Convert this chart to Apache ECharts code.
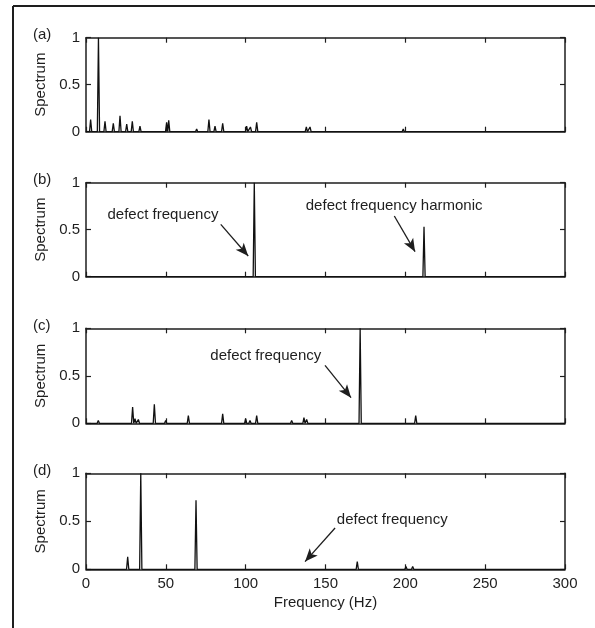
<!DOCTYPE html>
<html><head><meta charset="utf-8">
<script src="https://cdn.jsdelivr.net/npm/echarts@6/dist/echarts.min.js"></script>
<style>html,body{margin:0;padding:0;background:#fff}#c{width:595px;height:628px}</style>
</head><body><div id="c"></div>
<script>
// ---- data ----
const panelLabels = ['(a)', '(b)', '(c)', '(d)'];
const xAxisTitle = 'Frequency (Hz)';
const yAxisTitle = 'Spectrum';

const peakFreqA = [2.9, 7.8, 11.9, 17.1, 21.3, 25.5, 29.0, 33.8, 50.5, 51.8, 55.3, 69.3, 77.0, 80.8, 85.6, 100.6, 103.0, 106.9, 138.0, 140.3, 198.7, 213.4];
const peakAmpA  = [0.13, 1.0, 0.11, 0.09, 0.17, 0.08, 0.11, 0.06, 0.10, 0.12, 0.02, 0.03, 0.13, 0.06, 0.09, 0.06, 0.05, 0.10, 0.05, 0.05, 0.03, 0.01];

const peakFreqB = [105.4, 211.7];
const peakAmpB  = [1.0, 0.53];

const peakFreqC = [4.6, 7.7, 29.2, 30.7, 32.8, 37.0, 42.8, 49.9, 64.1, 72.0, 77.7, 85.6, 94.8, 100.0, 102.7, 106.9, 128.8, 136.5, 138.2, 141.4, 171.7, 206.5];
const peakAmpC  = [0.02, 0.03, 0.17, 0.05, 0.04, 0.02, 0.20, 0.03, 0.08, 0.02, 0.01, 0.10, 0.01, 0.05, 0.03, 0.08, 0.03, 0.06, 0.04, 0.02, 1.0, 0.08];

const peakFreqD = [26.1, 34.3, 68.9, 135.1, 169.9, 200.4, 204.6];
const peakAmpD  = [0.13, 1.0, 0.72, 0.01, 0.08, 0.03, 0.03];

// annotations (data units): text, text anchor, arrow start, arrow tip
const annoTextB  = ['defect frequency', 'defect frequency harmonic'];
const annoAtB    = [[48.2, 0.656], [193.0, 0.755]];
const arrowFromB = [[84.4, 0.557], [193.1, 0.646]];
const arrowToB   = [[101.6, 0.22], [206.1, 0.266]];

const annoTextC  = ['defect frequency'];
const annoAtC    = [[112.6, 0.71]];
const arrowFromC = [[149.7, 0.61]];
const arrowToC   = [[166.0, 0.27]];

const annoTextD  = ['defect frequency'];
const annoAtD    = [[191.8, 0.52]];
const arrowFromD = [[156.0, 0.43]];
const arrowToD   = [[137.2, 0.08]];

// ---- layout ----
const FONT = '"Liberation Sans", Arial, Helvetica, sans-serif';
const INK = '#1e1e1e';
const gridTops = [37.7, 182.7, 328.3, 473.3];
const gridHeights = [94, 94, 95, 96];
const HALF_W = 0.7;

function spikeLine(freqs, amps) {
  const idx = freqs.map((f, i) => i).sort((a, b) => freqs[a] - freqs[b]);
  const pts = [[0, 0]];
  idx.forEach(i => {
    pts.push([freqs[i] - HALF_W, 0]);
    pts.push([freqs[i], amps[i]]);
    pts.push([freqs[i] + HALF_W, 0]);
  });
  pts.push([300, 0]);
  return pts;
}

const panels = [
  { f: peakFreqA, a: peakAmpA, texts: [], at: [], from: [], to: [] },
  { f: peakFreqB, a: peakAmpB, texts: annoTextB, at: annoAtB, from: arrowFromB, to: arrowToB },
  { f: peakFreqC, a: peakAmpC, texts: annoTextC, at: annoAtC, from: arrowFromC, to: arrowToC },
  { f: peakFreqD, a: peakAmpD, texts: annoTextD, at: annoAtD, from: arrowFromD, to: arrowToD }
];

const grids = [], xAxes = [], yAxes = [], series = [];
const axisLine = { show: true, onZero: false, lineStyle: { color: INK, width: 1.5 } };
const tick = { show: true, inside: true, length: 5, lineStyle: { color: INK, width: 1.2 } };

panels.forEach((p, i) => {
  grids.push({ left: 86, right: 30, top: gridTops[i], height: gridHeights[i] });
  const last = i === panels.length - 1;
  xAxes.push({
    type: 'value', gridIndex: i, position: 'bottom', min: 0, max: 300, interval: 50,
    axisLine, axisTick: tick, splitLine: { show: false },
    axisLabel: { show: last, color: INK, fontSize: 15, fontFamily: FONT, margin: 7 },
    name: last ? xAxisTitle : '', nameLocation: 'middle', nameGap: 26,
    nameTextStyle: { color: INK, fontSize: 15, fontFamily: FONT }
  });
  xAxes.push({
    type: 'value', gridIndex: i, position: 'top', min: 0, max: 300, interval: 50,
    axisLine, axisTick: tick, splitLine: { show: false }, axisLabel: { show: false }
  });
  yAxes.push({
    type: 'value', gridIndex: i, position: 'left', min: 0, max: 1, interval: 0.5,
    axisLine, axisTick: tick, splitLine: { show: false },
    axisLabel: { color: INK, fontSize: 15, fontFamily: FONT, margin: 6 },
    name: yAxisTitle, nameLocation: 'middle', nameGap: 37,
    nameTextStyle: { color: INK, fontSize: 15, fontFamily: FONT }
  });
  yAxes.push({
    type: 'value', gridIndex: i, position: 'right', min: 0, max: 1, interval: 0.5,
    axisLine, axisTick: tick, splitLine: { show: false }, axisLabel: { show: false }
  });

  series.push({
    type: 'line', xAxisIndex: 2 * i, yAxisIndex: 2 * i,
    data: spikeLine(p.f, p.a), showSymbol: false, silent: true, animation: false,
    lineStyle: { color: '#111', width: 1.3 },
    markLine: {
      silent: true, animation: false,
      symbol: ['none', 'arrow'],
      label: { show: false },
      emphasis: { disabled: true },
      lineStyle: { color: INK, width: 1.3, type: 'solid' },
      data: p.from.map((s, k) => [
        { coord: s, symbol: 'none' },
        { coord: p.to[k], symbol: 'arrow', symbolSize: [8, 13] }
      ])
    },
    markPoint: {
      silent: true, animation: false,
      symbol: 'circle', symbolSize: 1,
      itemStyle: { color: 'rgba(0,0,0,0)' },
      label: {
        show: true, position: 'inside', color: INK, fontSize: 15, fontFamily: FONT,
        formatter: q => q.name
      },
      data: p.texts.map((t, k) => ({ name: t, coord: p.at[k] }))
    }
  });
});

const graphic = [
  { type: 'line', shape: { x1: 13, y1: 6, x2: 595, y2: 6 }, style: { stroke: INK, lineWidth: 2 }, silent: true },
  { type: 'line', shape: { x1: 13, y1: 6, x2: 13, y2: 628 }, style: { stroke: INK, lineWidth: 2 }, silent: true }
];
panelLabels.forEach((t, i) => {
  graphic.push({
    type: 'text', left: 33, top: gridTops[i] - 10, silent: true,
    style: { text: t, fill: INK, font: '15px ' + FONT }
  });
});

const chart = echarts.init(document.getElementById('c'), null, { renderer: 'canvas' });
chart.setOption({
  animation: false,
  backgroundColor: '#fff',
  grid: grids, xAxis: xAxes, yAxis: yAxes, series, graphic
});
</script>
</body></html>
